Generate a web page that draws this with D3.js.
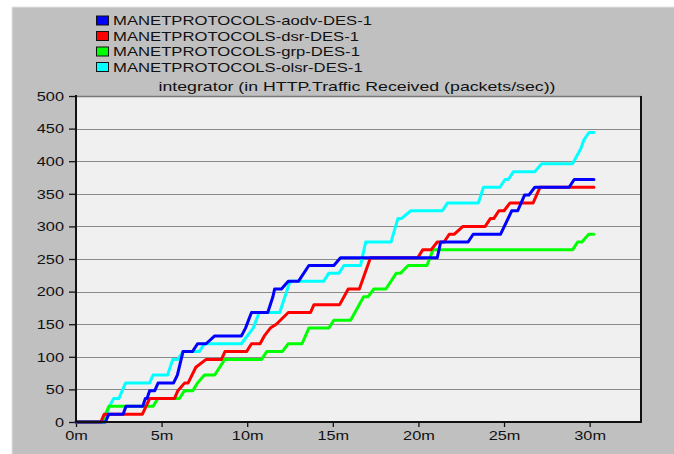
<!DOCTYPE html>
<html>
<head>
<meta charset="utf-8">
<script src="https://cdn.jsdelivr.net/npm/d3@7"></script>
<style>
  html, body { margin: 0; padding: 0; background: #ffffff; }
  svg { display: block; }
  text { font-family: "Liberation Sans", Arial, sans-serif; fill: #111; }
</style>
</head>
<body>
<svg id="chart" width="674" height="454"></svg>
<script>
// Cumulative HTTP traffic received (integrator), [minutes, packets/sec]
const aodv = [[0,0],[1.72,0],[1.92,12],[2.75,12],[2.92,24],[3.9,24],[4.05,36],[4.15,36],[4.3,48],[4.6,48],[4.8,60],[5.7,60],[5.92,72],[6.25,108],[6.8,108],[7.1,120],[7.6,120],[8.1,132],[9.66,132],[9.9,144],[10.25,168],[11.2,168],[11.5,192],[11.6,204],[12.0,204],[12.4,216],[13.0,216],[13.6,240],[15.06,240],[15.45,252],[21.1,252],[21.3,276],[22.9,276],[23.2,288],[24.8,288],[25.45,324],[25.8,324],[26.2,348],[26.45,348],[26.8,360],[28.8,360],[29.1,372],[30.25,372]];
const dsr = [[0,0],[1.45,0],[1.65,12],[3.88,12],[4.3,36],[5.75,36],[5.95,48],[6.35,60],[6.55,60],[7.0,84],[7.6,96],[8.5,96],[8.7,108],[9.96,108],[10.25,120],[10.75,120],[11.0,132],[11.35,144],[11.7,150],[12.4,168],[13.7,168],[13.9,180],[15.4,180],[15.9,204],[16.55,204],[17.2,252],[19.96,252],[20.25,264],[20.74,264],[21.1,276],[21.5,276],[21.8,288],[22.1,288],[22.6,300],[23.9,300],[24.2,312],[24.4,312],[24.7,324],[25.0,324],[25.35,336],[26.7,336],[27.1,360],[30.25,360]];
const grp = [[0,0],[1.53,0],[1.92,24],[4.5,24],[4.78,36],[6.04,36],[6.33,48],[6.82,48],[7.1,60],[7.5,72],[8.1,72],[8.69,96],[10.84,96],[11.14,108],[12.05,108],[12.4,120],[13.2,120],[13.6,144],[14.76,144],[15.06,156],[16.04,156],[16.8,192],[17.05,192],[17.4,204],[18.1,204],[18.7,228],[18.95,228],[19.4,240],[20.5,240],[20.85,264],[29.0,264],[29.3,276],[29.55,276],[29.95,288],[30.25,288]];
const olsr = [[0,0],[1.62,0],[1.95,24],[2.2,36],[2.5,36],[2.9,60],[4.3,60],[4.5,72],[5.35,72],[5.65,96],[5.95,96],[6.25,108],[7.2,108],[7.5,120],[9.66,120],[10.35,144],[10.7,168],[11.9,168],[12.5,216],[14.47,216],[14.76,228],[15.35,228],[15.65,240],[16.62,240],[16.92,276],[18.4,276],[18.8,312],[19.0,312],[19.56,324],[21.4,324],[21.7,336],[23.5,336],[23.8,360],[24.76,360],[25.06,372],[25.25,372],[25.55,384],[26.8,384],[27.2,396],[29.0,396],[29.5,420],[29.65,432],[29.96,444],[30.25,444]];

const seriesNames = ["MANETPROTOCOLS-aodv-DES-1", "MANETPROTOCOLS-dsr-DES-1", "MANETPROTOCOLS-grp-DES-1", "MANETPROTOCOLS-olsr-DES-1"];
const seriesData = [aodv, dsr, grp, olsr];
const seriesColors = ["#0000ff", "#ff0000", "#00ff00", "#00ffff"];

const yTicks = [0, 50, 100, 150, 200, 250, 300, 350, 400, 450, 500];
const xTicks = [0, 5, 10, 15, 20, 25, 30];
const chartTitle = "integrator (in HTTP.Traffic Received (packets/sec))";

const W = 674, H = 454;
const plot = { left: 76, right: 641, top: 96, bottom: 422 };
const STRETCH = 1.36; // wide raster-style lettering

const svg = d3.select("#chart");

// panel
svg.append("rect").attr("x", 12).attr("y", 7).attr("width", W - 12).attr("height", H - 7)
  .attr("fill", "#c0c0c0");
svg.append("line").attr("x1", 12).attr("x2", 12).attr("y1", 7).attr("y2", H)
  .attr("stroke", "#e2e2e2");
svg.append("line").attr("x1", 12).attr("x2", W).attr("y1", 7).attr("y2", 7)
  .attr("stroke", "#e2e2e2");

const x = d3.scaleLinear().domain([0, 33]).range([plot.left, plot.right]);
const y = d3.scaleLinear().domain([0, 500]).range([plot.bottom, plot.top]);

// plotting area
svg.append("rect").attr("x", plot.left).attr("y", plot.top)
  .attr("width", plot.right - plot.left).attr("height", plot.bottom - plot.top)
  .attr("fill", "#f0f0f0");

// horizontal grid
svg.append("g").selectAll("line").data(yTicks.filter(v => v > 0)).join("line")
  .attr("x1", plot.left).attr("x2", plot.right)
  .attr("y1", d => Math.round(y(d)) + 0.5).attr("y2", d => Math.round(y(d)) + 0.5)
  .attr("stroke", "#8a8a8a").attr("stroke-width", 1.2);

function stretchText(sel, anchor, sx) {
  sel.each(function () {
    const t = d3.select(this);
    const tx = +t.attr("x") || 0, ty = +t.attr("y") || 0;
    t.attr("x", 0).attr("y", 0)
      .attr("transform", `translate(${tx},${ty}) scale(${sx || STRETCH},1)`)
      .attr("text-anchor", anchor);
  });
}

// y axis
const yAxis = svg.append("g").attr("transform", `translate(${plot.left},0)`)
  .call(d3.axisLeft(y).tickValues(yTicks).tickSize(7).tickPadding(5).tickFormat(d3.format("d")));
yAxis.select(".domain").remove();
yAxis.selectAll(".tick line").attr("stroke", "#111").attr("stroke-width", 1.3);
yAxis.selectAll(".tick text").attr("font-size", 12).attr("dy", "0.35em")
  .attr("x", -12).attr("y", 0);
stretchText(yAxis.selectAll(".tick text"), "end");

// x axis
const xAxis = svg.append("g").attr("transform", `translate(0,${plot.bottom})`)
  .call(d3.axisBottom(x).tickValues(xTicks).tickSize(5).tickPadding(4).tickFormat(d => d + "m"));
xAxis.select(".domain").remove();
xAxis.selectAll(".tick line").attr("stroke", "#111").attr("stroke-width", 1.3);
xAxis.selectAll(".tick text").attr("font-size", 12).attr("dy", "0").attr("x", 0).attr("y", 18);
stretchText(xAxis.selectAll(".tick text"), "middle");

// series (last legend entry drawn first)
const line = d3.line().x(d => x(d[0])).y(d => y(d[1]));
svg.append("g").selectAll("path").data(seriesData.map((d, i) => i).reverse()).join("path")
  .attr("d", i => line(seriesData[i]))
  .attr("fill", "none")
  .attr("stroke", i => seriesColors[i])
  .attr("stroke-width", 3)
  .attr("stroke-linejoin", "round")
  .attr("stroke-linecap", "round");

// frame
svg.append("line").attr("x1", plot.left).attr("x2", plot.right)
  .attr("y1", plot.top + 0.5).attr("y2", plot.top + 0.5).attr("stroke", "#777").attr("stroke-width", 1.3);
svg.append("line").attr("x1", plot.right).attr("x2", plot.right)
  .attr("y1", plot.top).attr("y2", plot.bottom + 1).attr("stroke", "#111").attr("stroke-width", 2);
svg.append("line").attr("x1", plot.left).attr("x2", plot.left)
  .attr("y1", plot.top - 1).attr("y2", plot.bottom + 1).attr("stroke", "#111").attr("stroke-width", 2);
svg.append("line").attr("x1", plot.left - 1).attr("x2", plot.right + 1)
  .attr("y1", plot.bottom).attr("y2", plot.bottom).attr("stroke", "#111").attr("stroke-width", 2);

// title
const title = svg.append("text").attr("x", 357).attr("y", 91)
  .attr("font-size", 12).text(chartTitle);
stretchText(title, "middle", 1.48);

// legend
const legend = svg.append("g").selectAll("g").data(seriesNames).join("g")
  .attr("transform", (d, i) => `translate(96,${15.5 + i * 15.5})`);
legend.append("rect").attr("x", 0.5).attr("y", 0.5).attr("width", 12).attr("height", 9)
  .attr("fill", (d, i) => seriesColors[i]).attr("stroke", "#111").attr("stroke-width", 1);
legend.append("text").attr("x", 17).attr("y", 9.5).attr("font-size", 12).text(d => d)
  .call(s => stretchText(s, "start", 1.39));
</script>
</body>
</html>
